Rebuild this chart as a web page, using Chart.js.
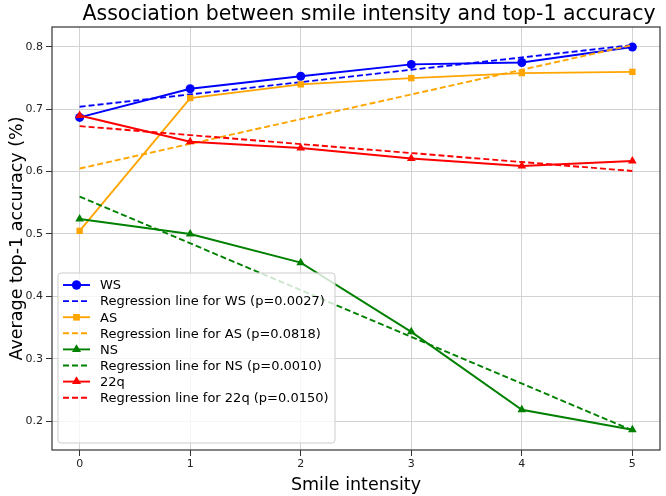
<!DOCTYPE html>
<html>
<head>
<meta charset="utf-8">
<script src="https://cdn.jsdelivr.net/npm/chart.js@4.4.1/dist/chart.umd.min.js"></script>
<style>
  html, body { margin: 0; padding: 0; background: #ffffff; }
  #wrap { width: 666px; height: 496px; position: relative; }
</style>
</head>
<body>
<div id="wrap"><canvas id="chart"></canvas></div>
<script>
// ---- data ----
const intensity = [0, 1, 2, 3, 4, 5];
const wsAcc  = [0.687, 0.733, 0.753, 0.772, 0.775, 0.800];
const asAcc  = [0.505, 0.718, 0.740, 0.750, 0.758, 0.760];
const nsAcc  = [0.524, 0.500, 0.454, 0.343, 0.218, 0.186];
const q22Acc = [0.690, 0.648, 0.638, 0.621, 0.609, 0.617];

// regression lines: value at intensity 0 and at intensity 5
const regX   = [0, 5];
const wsReg  = [0.704, 0.803];
const asReg  = [0.605, 0.803];
const nsReg  = [0.560, 0.185];
const q22Reg = [0.673, 0.601];

const pValues = { WS: '0.0027', AS: '0.0818', NS: '0.0010', '22q': '0.0150' };
const xTicks = [0, 1, 2, 3, 4, 5];
const yTicks = [0.2, 0.3, 0.4, 0.5, 0.6, 0.7, 0.8];

const FONT = "'DejaVu Sans', sans-serif";

function pts(xs, ys) {
    return xs.map((x, i) => ({ x: x, y: ys[i] }));
}

function seriesSet(label, ys, color, marker) {
    return {
        label: label,
        data: pts(intensity, ys),
        borderColor: color,
        backgroundColor: color,
        borderWidth: 1.9,
        pointStyle: marker,
        pointRadius: marker === 'triangle' ? 5 : 4.5,
        pointBorderWidth: 0,
        tension: 0
    };
}

function regSet(name, ys, color) {
    return {
        label: 'Regression line for ' + name + ' (p=' + pValues[name] + ')',
        data: pts(regX, ys),
        borderColor: color,
        backgroundColor: color,
        borderWidth: 1.9,
        borderDash: [6, 3],
        pointRadius: 0,
        tension: 0
    };
}

const datasets = [
    seriesSet('WS', wsAcc, '#0000ff', 'circle'),
    regSet('WS', wsReg, '#0000ff'),
    seriesSet('AS', asAcc, '#ffa500', 'rect'),
    regSet('AS', asReg, '#ffa500'),
    seriesSet('NS', nsAcc, '#008000', 'triangle'),
    regSet('NS', nsReg, '#008000'),
    seriesSet('22q', q22Acc, '#ff0000', 'triangle'),
    regSet('22q', q22Reg, '#ff0000')
];
// later series drawn on top, like matplotlib
datasets.forEach((d, i) => { d.order = datasets.length - i; });

// frame, title and matplotlib-like legend
const decorPlugin = {
    id: 'decor',
    afterDraw(chart) {
        const ctx = chart.ctx;
        const a = chart.chartArea;
        ctx.save();

        // full box around the plot
        ctx.strokeStyle = '#333333';
        ctx.lineWidth = 1.2;
        ctx.strokeRect(a.left, a.top, a.right - a.left, a.bottom - a.top);

        // title
        ctx.fillStyle = '#000000';
        ctx.font = '20.5px ' + FONT;
        ctx.textAlign = 'center';
        ctx.textBaseline = 'alphabetic';
        ctx.fillText('Association between smile intensity and top-1 accuracy', (a.left + a.right) / 2 + 13, 20);

        // legend
        const bx = 58, by = 273, bw = 277, bh = 170, row = 16.1;
        ctx.fillStyle = 'rgba(255,255,255,0.8)';
        ctx.strokeStyle = '#cccccc';
        ctx.lineWidth = 1;
        ctx.beginPath();
        ctx.roundRect(bx, by, bw, bh, 3);
        ctx.fill();
        ctx.stroke();

        ctx.font = '13px ' + FONT;
        ctx.textAlign = 'left';
        ctx.textBaseline = 'middle';
        chart.data.datasets.forEach((d, i) => {
            const y = by + 12 + i * row;
            ctx.strokeStyle = d.borderColor;
            ctx.lineWidth = 1.9;
            ctx.setLineDash(d.borderDash || []);
            ctx.beginPath();
            ctx.moveTo(63, y);
            ctx.lineTo(90, y);
            ctx.stroke();
            ctx.setLineDash([]);
            if (d.pointRadius > 0) {
                ctx.fillStyle = d.backgroundColor;
                Chart.helpers.drawPoint(ctx, {
                    pointStyle: d.pointStyle,
                    radius: d.pointRadius,
                    borderWidth: 0,
                    rotation: 0
                }, 76.5, y);
                ctx.fill();
            }
            ctx.fillStyle = '#000000';
            ctx.fillText(d.label, 100, y + 1);
        });
        ctx.restore();
    }
};

new Chart(document.getElementById('chart'), {
    type: 'line',
    data: { datasets: datasets },
    options: {
        responsive: true,
        maintainAspectRatio: false,
        animation: false,
        layout: { padding: { top: 27, right: 6, left: 0, bottom: 0 } },
        plugins: {
            legend: { display: false },
            title: { display: false },
            tooltip: { enabled: false }
        },
        scales: {
            x: {
                type: 'linear',
                min: -0.25,
                max: 5.25,
                afterBuildTicks: (scale) => { scale.ticks = xTicks.map(v => ({ value: v })); },
                afterFit: (scale) => { scale.height = 46; },
                ticks: {
                    color: '#222222',
                    font: { family: FONT, size: 11 },
                    padding: 2,
                    callback: (v) => String(v)
                },
                grid: { color: '#d3d3d3', lineWidth: 1, tickLength: 6, tickColor: '#333333' },
                border: { display: false },
                title: {
                    display: true,
                    text: 'Smile intensity',
                    color: '#000000',
                    font: { family: FONT, size: 17.5 },
                    padding: { top: 2, bottom: 0 }
                }
            },
            y: {
                type: 'linear',
                min: 0.1535,
                max: 0.832,
                afterBuildTicks: (scale) => { scale.ticks = yTicks.map(v => ({ value: v })); },
                afterFit: (scale) => { scale.width = 52; },
                ticks: {
                    color: '#222222',
                    font: { family: FONT, size: 11 },
                    padding: 3,
                    callback: (v) => v.toFixed(1)
                },
                grid: { color: '#d3d3d3', lineWidth: 1, tickLength: 6, tickColor: '#333333' },
                border: { display: false },
                title: {
                    display: true,
                    text: 'Average top-1 accuracy (%)',
                    color: '#000000',
                    font: { family: FONT, size: 17.5 },
                    padding: { top: 7, bottom: 3 }
                }
            }
        }
    },
    plugins: [decorPlugin]
});
</script>
</body>
</html>
